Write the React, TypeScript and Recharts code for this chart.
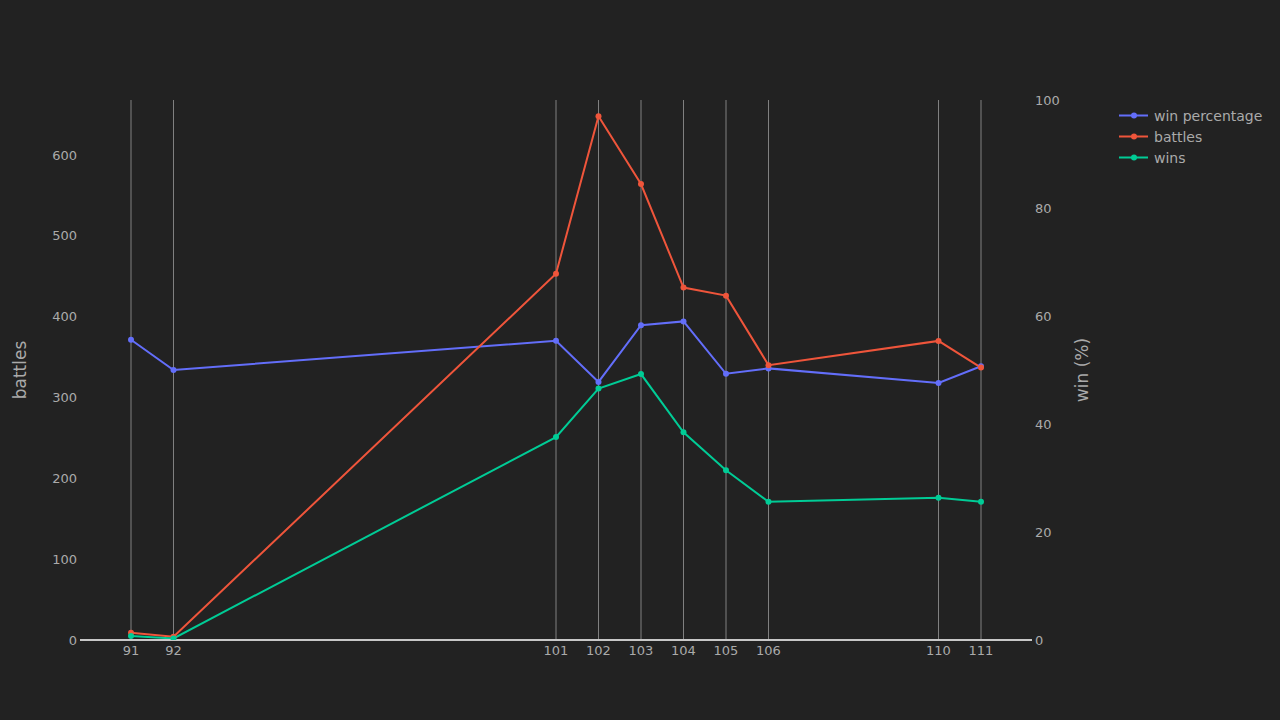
import React from 'react';
import { LineChart, Line, XAxis, YAxis, ReferenceLine } from 'recharts';

const levels = [91, 92, 101, 102, 103, 104, 105, 106, 110, 111];
const battles = [9, 4, 453, 648, 564, 436, 426, 340, 370, 337];
const wins = [5, 2, 251, 311, 329, 257, 210, 171, 176, 171];
const winPct = [55.6, 50, 55.4, 47.8, 58.3, 59.0, 49.3, 50.3, 47.6, 50.7];
const leftTicks = [0, 100, 200, 300, 400, 500, 600];
const rightTicks = [0, 20, 40, 60, 80, 100];

const data = levels.map((lv, i) => ({ level: lv, battles: battles[i], wins: wins[i], pct: winPct[i] }));

const BG = '#222222';
const TXT = '#aaaaaa';
const C_PCT = '#636efa';
const C_BAT = '#EF553B';
const C_WIN = '#00cc96';
const FONT = 'DejaVu Sans, sans-serif';

const legendItems = [
  { name: 'win percentage', color: C_PCT },
  { name: 'battles', color: C_BAT },
  { name: 'wins', color: C_WIN },
];

export default function App() {
  return (
    <div style={{ position: 'fixed', left: 0, top: 0, width: 1280, height: 720, background: BG, fontFamily: FONT }}>
      <LineChart width={1280} height={720} data={data} margin={{ top: 100, right: 0, bottom: 0, left: 0 }}>
        <XAxis
          dataKey="level"
          type="number"
          domain={[89.8, 112.2]}
          ticks={levels}
          allowDataOverflow
          height={80}
          tickLine={false}
          tickSize={0}
          tickMargin={6}
          axisLine={{ stroke: '#c8c8c8', strokeWidth: 2 }}
          tick={{ fill: TXT, fontSize: 13, fontFamily: FONT }}
          interval={0}
        />
        <YAxis
          yAxisId="left"
          orientation="left"
          width={80}
          domain={[0, 668]}
          ticks={leftTicks}
          allowDataOverflow
          tickLine={false}
          axisLine={false}
          tickSize={0}
          tickMargin={3}
          tick={{ fill: TXT, fontSize: 13, fontFamily: FONT }}
          label={(props: any) => {
            const vb = props.viewBox;
            const cx = 20;
            const cy = vb.y + vb.height / 2;
            return (
              <text x={cx} y={cy} transform={`rotate(-90 ${cx} ${cy})`} textAnchor="middle" dominantBaseline="central" fill={TXT} fontSize={17} fontFamily={FONT}>
                battles
              </text>
            );
          }}
        />
        <YAxis
          yAxisId="right"
          orientation="right"
          width={248}
          domain={[0, 100]}
          ticks={rightTicks}
          allowDataOverflow
          tickLine={false}
          axisLine={false}
          tickSize={0}
          tickMargin={3}
          tick={{ fill: TXT, fontSize: 13, fontFamily: FONT }}
          label={(props: any) => {
            const vb = props.viewBox;
            const cx = 1082;
            const cy = vb.y + vb.height / 2;
            return (
              <text x={cx} y={cy} transform={`rotate(-90 ${cx} ${cy})`} textAnchor="middle" dominantBaseline="central" fill={TXT} fontSize={17} fontFamily={FONT}>
                win (%)
              </text>
            );
          }}
        />
        {levels.map((lv) => (
          <ReferenceLine key={lv} x={lv} yAxisId="left" stroke="#808080" strokeWidth={1} />
        ))}
        <Line yAxisId="right" type="linear" dataKey="pct" stroke={C_PCT} strokeWidth={2} dot={{ r: 3, fill: C_PCT, stroke: C_PCT, strokeWidth: 0 }} isAnimationActive={false} />
        <Line yAxisId="left" type="linear" dataKey="battles" stroke={C_BAT} strokeWidth={2} dot={{ r: 3, fill: C_BAT, stroke: C_BAT, strokeWidth: 0 }} isAnimationActive={false} />
        <Line yAxisId="left" type="linear" dataKey="wins" stroke={C_WIN} strokeWidth={2} dot={{ r: 3, fill: C_WIN, stroke: C_WIN, strokeWidth: 0 }} isAnimationActive={false} />
      </LineChart>
      <div style={{ position: 'absolute', left: 1119, top: 105 }}>
        {legendItems.map((it) => (
          <div key={it.name} style={{ height: 21, display: 'flex', alignItems: 'center' }}>
            <svg width={35} height={21}>
              <line x1={0} y1={10.5} x2={29} y2={10.5} stroke={it.color} strokeWidth={2} />
              <circle cx={15} cy={10.5} r={3} fill={it.color} />
            </svg>
            <span style={{ color: TXT, fontSize: 14, fontFamily: FONT }}>{it.name}</span>
          </div>
        ))}
      </div>
    </div>
  );
}
